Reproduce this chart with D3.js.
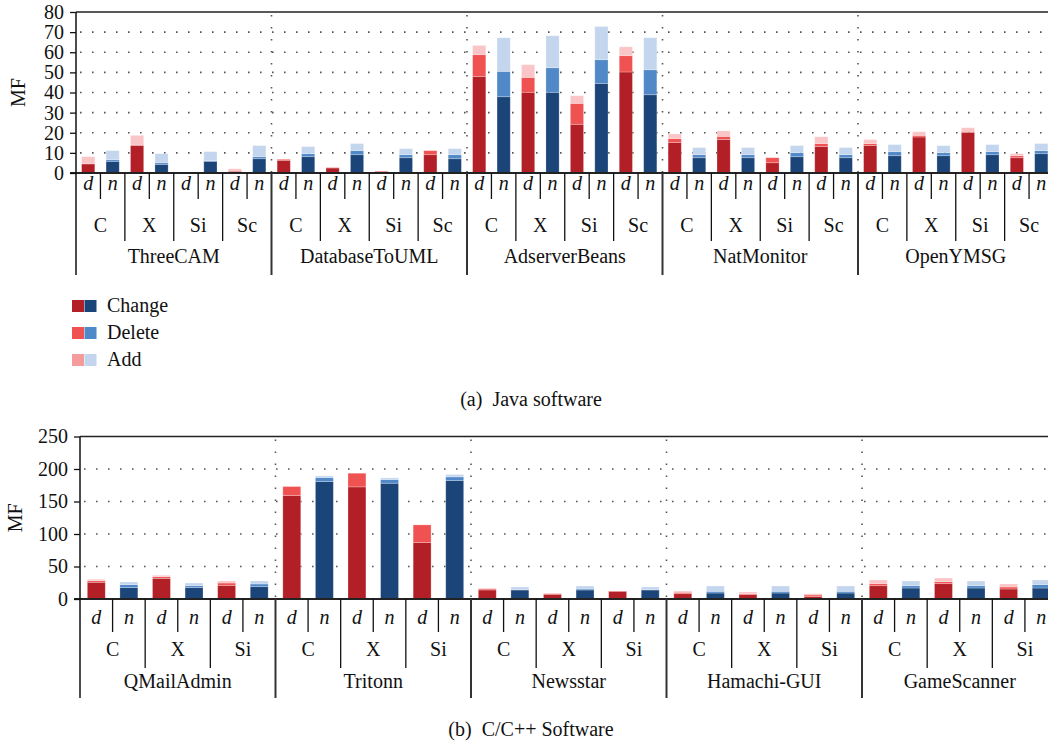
<!DOCTYPE html>
<html>
<head>
    <meta charset="UTF-8">
    <style>
        *{ margin: 0; padding: 0; }
        body{ background-color: #fff; }
        #chart{ background-color: #fff; display: block; }
        text{ font-family: "Liberation Serif", "DejaVu Serif", serif; fill: #111; }
    </style>
    <script src="https://d3js.org/d3.v7.min.js"></script>
    <title>MF per project</title>
</head>
<body>
<svg id="chart" width="1048" height="742"></svg>
<script>
    // ---- data ----
    var variants = ["d", "n"];
    var seriesKeys = ["change", "delete", "add"];
    var seriesNames = ["Change", "Delete", "Add"];

    var javaProjects = ["ThreeCAM", "DatabaseToUML", "AdserverBeans", "NatMonitor", "OpenYMSG"];
    var javaCats = ["C", "X", "Si", "Sc"];
    var javaTicks = [0, 10, 20, 30, 40, 50, 60, 70, 80];
    // order: project -> category -> d, n
    var javaChange = [
        4.5, 5.8, 13.7, 4.3, 0, 5.8, 0.8, 7.1,
        6.3, 8.1, 2.5, 9.1, 0.7, 7.6, 9.1, 7.1,
        48.0, 37.9, 40.1, 40.1, 24.2, 44.5, 50.2, 38.9,
        15.2, 7.6, 16.7, 7.6, 5.1, 8.1, 13.2, 7.6,
        13.7, 8.6, 17.9, 8.6, 20.2, 9.1, 7.6, 9.6
    ];
    var javaDelete = [
        0, 0.8, 0.2, 0.8, 0, 0.3, 0.5, 1.0,
        0.5, 1.5, 0.2, 2.0, 0.3, 1.5, 2.0, 2.0,
        10.8, 12.6, 7.4, 12.2, 10.4, 11.8, 8.1, 12.4,
        1.9, 1.5, 1.5, 1.5, 2.5, 2.0, 1.4, 1.5,
        0.9, 2.0, 0.8, 1.5, 0.5, 1.5, 1.0, 1.5
    ];
    var javaAdd = [
        3.6, 4.5, 4.8, 4.5, 0, 4.5, 0.8, 5.5,
        0, 3.5, 0, 3.5, 0, 3.0, 0, 3.0,
        4.6, 16.7, 6.3, 15.9, 3.8, 16.5, 4.4, 15.9,
        2.3, 3.5, 2.7, 3.5, 0, 3.5, 3.4, 3.5,
        2.0, 3.5, 1.8, 3.5, 1.8, 3.5, 1.0, 3.5
    ];

    var cppProjects = ["QMailAdmin", "Tritonn", "Newsstar", "Hamachi-GUI", "GameScanner"];
    var cppCats = ["C", "X", "Si"];
    var cppTicks = [0, 50, 100, 150, 200, 250];
    var cppChange = [
        25.7, 17.5, 31.8, 17.5, 21.0, 19.0,
        159.1, 180.7, 172.5, 178.1, 86.8, 182.2,
        13.9, 13.9, 7.2, 13.9, 11.8, 13.9,
        8.2, 9.2, 6.7, 9.2, 3.6, 9.2,
        20.5, 16.9, 23.6, 16.9, 15.4, 16.9
    ];
    var cppDelete = [
        2.5, 4.6, 2.6, 3.0, 3.6, 4.1,
        13.9, 6.2, 21.0, 5.7, 27.2, 5.7,
        1.5, 0.5, 1.0, 1.5, 0.5, 0.5,
        2.1, 2.6, 1.5, 2.6, 2.6, 2.6,
        3.1, 3.6, 3.1, 3.6, 3.1, 5.2
    ];
    var cppAdd = [
        2.1, 4.1, 2.0, 4.1, 3.1, 4.6,
        0, 2.5, 0, 2.5, 0, 3.6,
        1.5, 4.1, 0, 4.6, 0, 4.1,
        2.0, 8.2, 2.6, 8.2, 2.0, 8.2,
        5.7, 7.2, 5.6, 7.2, 4.6, 7.2
    ];

    // ---- styling ----
    var colors = {
        d: {change: "#b31f26", "delete": "#f05252", add: "#f9c5c6"},
        n: {change: "#1b4578", "delete": "#5088c8", add: "#c4d6ee"}
    };
    var legendColors = {
        d: ["#b31f26", "#f05252", "#f49c9c"],
        n: ["#1b4578", "#5088c8", "#c4d6ee"]
    };

    var svg = d3.select("#chart");
    var W = 1048;

    function drawPanel(p) {
        var g = svg.append("g");
        var nG = p.projects.length;

        var slots = [];
        p.cats.forEach(function (c) {
            variants.forEach(function (v) { slots.push(c + "|" + v); });
        });

        var x0 = d3.scaleBand().domain(p.projects)
            .range([p.left, p.left + p.groupW * nG]);
        var x1 = d3.scaleBand().domain(slots)
            .range([0, x0.bandwidth()])
            .paddingInner(p.pad).paddingOuter(p.pad / 2);
        var y = d3.scaleLinear().domain([0, p.ticks[p.ticks.length - 1]])
            .range([p.zero, p.top]);

        var rows = p.change.map(function (c, i) {
            var slot = slots[i % slots.length];
            return {
                project: p.projects[Math.floor(i / slots.length)],
                slot: slot,
                side: slot.split("|")[1],
                change: c, "delete": p.del[i], add: p.add[i]
            };
        });

        // horizontal dotted grid
        g.selectAll(".hgrid")
            .data(p.ticks.slice(1, -1))
            .enter().append("line")
            .attr("x1", p.left + 4).attr("x2", W)
            .attr("y1", function (d) { return y(d); })
            .attr("y2", function (d) { return y(d); })
            .attr("stroke", "#555").attr("stroke-width", 1.6)
            .attr("stroke-dasharray", "1.6,10.4");

        // vertical dotted group boundaries
        g.selectAll(".vgrid")
            .data(p.projects.slice(1))
            .enter().append("line")
            .attr("x1", function (d) { return x0(d); })
            .attr("x2", function (d) { return x0(d); })
            .attr("y1", p.top + 3).attr("y2", p.zero)
            .attr("stroke", "#555").attr("stroke-width", 1.6)
            .attr("stroke-dasharray", "1.6,10.4");

        // stacked bars
        var stacked = d3.stack().keys(seriesKeys)(rows);
        stacked.forEach(function (layer) {
            g.selectAll(".seg-" + layer.key)
                .data(layer)
                .enter().append("rect")
                .attr("x", function (d) { return x0(d.data.project) + x1(d.data.slot); })
                .attr("width", x1.bandwidth())
                .attr("y", function (d) { return y(d[1]); })
                .attr("height", function (d) { return Math.max(0, y(d[0]) - y(d[1])); })
                .attr("fill", function (d) { return colors[d.data.side][layer.key]; })
                .attr("stroke", "#fff").attr("stroke-opacity", 0.3)
                .attr("stroke-width", 0.8);
        });

        // frame: top line, zero line, y axis line
        g.append("line")
            .attr("x1", p.left).attr("x2", W)
            .attr("y1", p.top).attr("y2", p.top)
            .attr("stroke", "#222").attr("stroke-width", 1.6);
        g.append("line")
            .attr("x1", p.left - 6).attr("x2", W)
            .attr("y1", p.zero).attr("y2", p.zero)
            .attr("stroke", "#222").attr("stroke-width", 2);
        g.append("line")
            .attr("x1", p.left).attr("x2", p.left)
            .attr("y1", p.top).attr("y2", p.zero + p.grpSep)
            .attr("stroke", "#111").attr("stroke-width", 1.5);

        // y axis ticks and labels
        var ax = g.append("g")
            .attr("transform", "translate(" + p.left + ",0)")
            .call(d3.axisLeft(y).tickValues(p.ticks).tickSize(6).tickPadding(6));
        ax.select(".domain").remove();
        ax.selectAll(".tick line").attr("stroke", "#111").attr("stroke-width", 1.3);
        ax.selectAll(".tick text")
            .attr("font-size", "20px")
            .attr("font-family", "Liberation Serif, serif")
            .attr("fill", "#111");

        g.append("text")
            .attr("transform", "translate(" + p.labelX + "," + ((p.top + p.zero) / 2) + ") rotate(-90)")
            .attr("text-anchor", "middle")
            .attr("dominant-baseline", "central")
            .attr("font-size", "20px")
            .text("MF");

        // hierarchical category axis
        var step = x1.step();
        p.projects.forEach(function (proj) {
            var gx = x0(proj);
            // separators between d and n, and between categories
            for (var k = 1; k < slots.length; k++) {
                var sx = gx + x1(slots[k]) - step * p.pad / 2;
                var len = (k % 2 === 1) ? p.dnSep : p.catSep;
                g.append("line")
                    .attr("x1", sx).attr("x2", sx)
                    .attr("y1", p.zero).attr("y2", p.zero + len)
                    .attr("stroke", "#111").attr("stroke-width", 1.3);
            }
            slots.forEach(function (s) {
                g.append("text")
                    .attr("x", gx + x1(s) + x1.bandwidth() / 2)
                    .attr("y", p.zero + p.dnBase)
                    .attr("text-anchor", "middle")
                    .attr("font-size", "20px")
                    .attr("font-style", "italic")
                    .text(s.split("|")[1]);
            });
            p.cats.forEach(function (c) {
                var a = gx + x1(c + "|d"), b = gx + x1(c + "|n") + x1.bandwidth();
                g.append("text")
                    .attr("x", (a + b) / 2)
                    .attr("y", p.zero + p.catBase)
                    .attr("text-anchor", "middle")
                    .attr("font-size", "20px")
                    .text(c);
            });
            g.append("text")
                .attr("x", gx + x0.bandwidth() / 2)
                .attr("y", p.zero + p.grpBase)
                .attr("text-anchor", "middle")
                .attr("font-size", "20px")
                .text(proj);
            if (proj !== p.projects[0]) {
                g.append("line")
                    .attr("x1", gx).attr("x2", gx)
                    .attr("y1", p.zero).attr("y2", p.zero + p.grpSep)
                    .attr("stroke", "#333").attr("stroke-width", 2);
            }
        });

        // caption
        g.append("text")
            .attr("x", p.captionX).attr("y", p.captionY)
            .attr("text-anchor", "middle")
            .attr("font-size", "20px")
            .attr("xml:space", "preserve")
            .text(p.caption);
    }

    drawPanel({
        projects: javaProjects, cats: javaCats, ticks: javaTicks,
        change: javaChange, del: javaDelete, add: javaAdd,
        left: 76, groupW: 195.5, pad: 0.46, top: 12, zero: 173, labelX: 18,
        dnBase: 17, dnSep: 26, catBase: 59, catSep: 68, grpBase: 90, grpSep: 102,
        caption: "(a)  Java software", captionX: 531, captionY: 406
    });

    drawPanel({
        projects: cppProjects, cats: cppCats, ticks: cppTicks,
        change: cppChange, del: cppDelete, add: cppAdd,
        left: 80, groupW: 195.5, pad: 0.45, top: 436.5, zero: 599, labelX: 15,
        dnBase: 25, dnSep: 33, catBase: 57, catSep: 69, grpBase: 89, grpSep: 99,
        caption: "(b)  C/C++ Software", captionX: 531, captionY: 736
    });

    // legend
    var legend = svg.append("g").attr("transform", "translate(72,300)");
    seriesNames.forEach(function (name, i) {
        var row = legend.append("g").attr("transform", "translate(0," + (i * 27) + ")");
        row.append("rect").attr("x", 0).attr("y", 0).attr("width", 12).attr("height", 12)
            .attr("fill", legendColors.d[i]);
        row.append("rect").attr("x", 12.5).attr("y", 0).attr("width", 12).attr("height", 12)
            .attr("fill", legendColors.n[i]);
        row.append("text").attr("x", 35).attr("y", 12)
            .attr("font-size", "20px")
            .text(name);
    });
</script>
</body>
</html>
